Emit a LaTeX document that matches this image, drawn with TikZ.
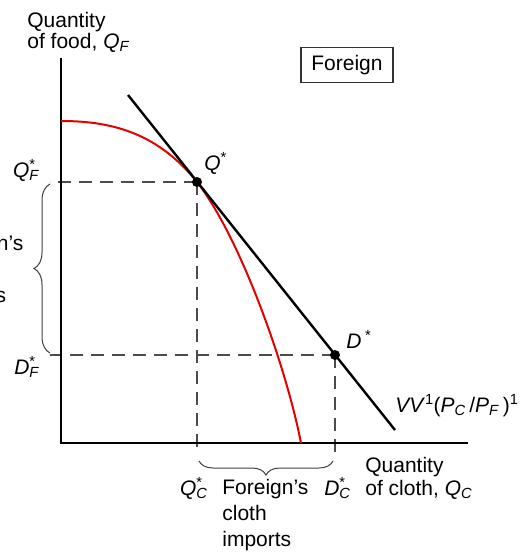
\documentclass[tikz,border=0pt]{standalone}
\usepackage{fontspec}
\setmainfont{Liberation Sans}
\usetikzlibrary{decorations.pathreplacing}

\tikzset{every picture/.style={line width=0.75pt}}
\tikzset{
  axisline/.style={line width=2.4pt},
  guideline/.style={line width=1.4pt, draw=black!70, dash pattern=on 13pt off 8pt},
  ppfcurve/.style={line width=2pt, draw=red!90!black},
  budget/.style={line width=2.4pt},
  bracemark/.style={line width=1pt, draw=black!75, decorate},
  eqdot/.style={circle, fill=black, inner sep=0pt, minimum size=10pt},
  lbl/.style={inner sep=0pt, font=\fontsize{21}{23}\selectfont}
}
\newcommand{\starsym}[2]{\textit{#1}\rlap{\textsuperscript{*}}\textsubscript{\textit{#2}}}

\begin{document}
\begin{tikzpicture}[x=1pt,y=1pt,yscale=-1,xscale=1]
        \useasboundingbox (0,0) rectangle (523,554);

        \coordinate (O) at (61,443);
        \coordinate (Ytop) at (61,58);
        \coordinate (Xend) at (468,443);
        \coordinate (Vtop) at (128,95);
        \coordinate (Vbot) at (395,430);
        \coordinate (Qs) at (197,182);
        \coordinate (Ds) at (335,355);
        \coordinate (PPFtop) at (61,121);
        \coordinate (PPFend) at (301,443);
        \coordinate (QFl) at (50,182);
        \coordinate (DFl) at (50,355);
        \coordinate (QCb) at (197,453);
        \coordinate (DCb) at (335,453);

        % guide lines
        \draw [guideline] (Qs) -- (QFl);
        \draw [guideline] (Qs) -- (QCb);
        \draw [guideline] (Ds) -- (DFl);
        \draw [guideline] (Ds) -- (DCb);

        % axes
        \draw [axisline] (Ytop) -- (O) -- (Xend);

        % production possibility frontier
        \draw [ppfcurve] (PPFtop) .. controls (110,121) and (157,132) .. (Qs) .. controls (240,237) and (286,366) .. (PPFend);

        % relative price line
        \draw [budget] (Vtop) -- (Vbot);

        \node [eqdot] (Qdot) at (Qs) {};
        \node [eqdot] (Ddot) at (Ds) {};

        % braces
        \draw [bracemark, decoration={brace, amplitude=16pt}] (50,353) -- (50,184);
        \draw [bracemark, decoration={brace, amplitude=14pt}] (333,461) -- (199,461);

        % labels
        \node [lbl, anchor=north west, align=left, font=\fontsize{21}{21}\selectfont] (yaxis) at (27,12) {Quantity\\of food, \textit{Q}\textsubscript{\textit{F}}};
        \node [lbl, anchor=north west, align=left] (xaxis) at (365,457) {Quantity\\of cloth, \textit{Q}\textsubscript{\textit{C}}};
        \node [lbl, draw=black!80, line width=1.3pt, minimum width=92pt, minimum height=35pt] (country) at (347,65) {Foreign};

        \node [lbl, anchor=base west] (Qlab) at (204,170) {\textit{Q}\textsuperscript{*}};
        \node [lbl, anchor=base west] (Dlab) at (346,348) {\textit{D}\,\textsuperscript{*}};
        \node [lbl, anchor=base east] (QFlab) at (40,177) {\starsym{Q}{F}};
        \node [lbl, anchor=base east] (DFlab) at (40,374) {\starsym{D}{F}};
        \node [lbl, anchor=base east] (QClab) at (208,495) {\starsym{Q}{C}};
        \node [lbl, anchor=base east] (DClab) at (351,495) {\starsym{D}{C}};
        \node [lbl, anchor=base west] (Vlab) at (395,412) {\textit{VV}\textsuperscript{1}(\textit{P}\textsubscript{\textit{C}}\,/\textit{P}\textsubscript{\textit{F}}\,)\textsuperscript{1}};

        \node [lbl, anchor=north west, align=left, font=\fontsize{21}{26}\selectfont] (exports) at (-63,235) {Foreign's\\food\\exports};
        \node [lbl, anchor=north west, align=left, font=\fontsize{21}{26}\selectfont] (imports) at (222,479) {Foreign's\\cloth\\imports};
\end{tikzpicture}
\end{document}
